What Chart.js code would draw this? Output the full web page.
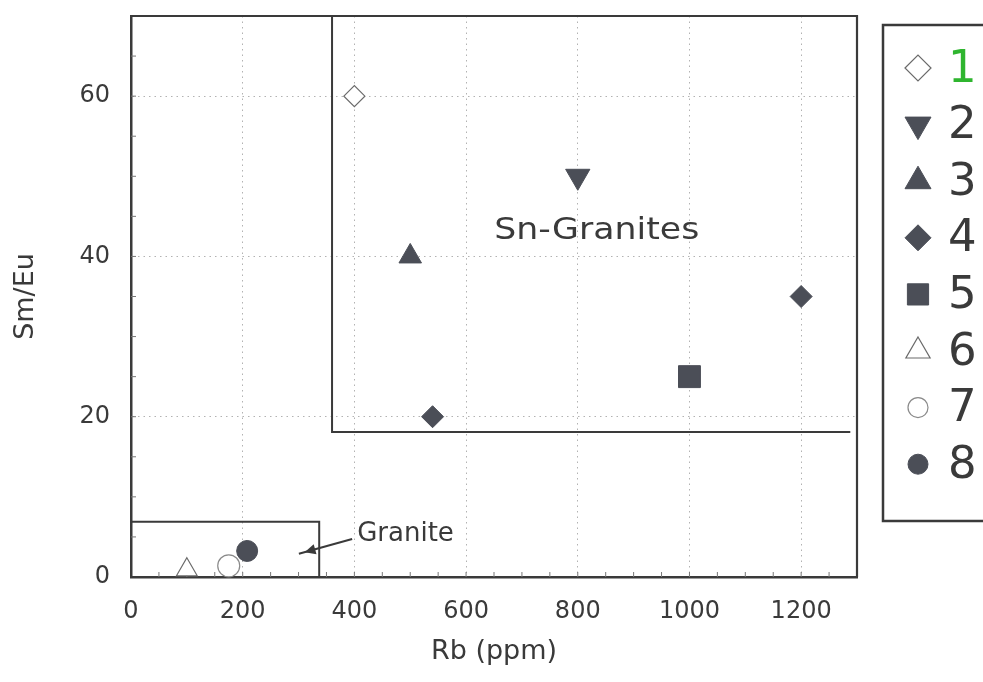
<!DOCTYPE html>
<html>
<head>
<meta charset="utf-8">
<script src="https://cdn.jsdelivr.net/npm/chart.js@4.4.1/dist/chart.umd.min.js"></script>
<style>
  html, body { margin: 0; padding: 0; background: #fff; overflow: hidden; }
  #wrap { position: relative; width: 983px; height: 682px; }
</style>
</head>
<body>
<div id="wrap"><canvas id="chart"></canvas></div>
<script>
// sample groups, Rb (ppm) vs Sm/Eu
const seriesNames = ['1', '2', '3', '4', '5', '6', '7', '8'];
const rbValues   = [[400], [800], [500], [540, 1200], [1000], [100], [175], [208]];
const smEuValues = [[60],  [50],  [40],  [20, 35],    [25],   [0.9], [1.4], [3.25]];
const xTicks = [0, 200, 400, 600, 800, 1000, 1200];
const yTicks = [0, 20, 40, 60];

// field outlines
const snField = { xMin: 360, xMax: 1288, yMin: 18.1 };
const graniteField = { xMax: 337, yMax: 6.9 };

const ink = '#3a3a3a';
const dark = '#4b4e57';
const FONT = '"DejaVu Sans", sans-serif';

const markers = [
  { style: 'rectRot',  rot: 0,   r: 10.5, fill: '#fff', line: '#6a6a6a', bw: 1.2, legendR: 13 },
  { style: 'triangle', rot: 180, r: 14,   fill: dark,   line: dark,      bw: 1,   legendR: 15 },
  { style: 'triangle', rot: 0,   r: 13,   fill: dark,   line: dark,      bw: 1,   legendR: 15 },
  { style: 'rectRot',  rot: 0,   r: 11,   fill: dark,   line: dark,      bw: 1,   legendR: 13 },
  { style: 'rect',     rot: 0,   r: 15.5, fill: dark,   line: dark,      bw: 1,   legendR: 15 },
  { style: 'triangle', rot: 0,   r: 12,   fill: '#fff', line: '#6a6a6a', bw: 1.2, legendR: 14 },
  { style: 'circle',   rot: 0,   r: 11,   fill: '#fff', line: '#8a8a8a', bw: 1.2, legendR: 10 },
  { style: 'circle',   rot: 0,   r: 10.5, fill: dark,   line: dark,      bw: 1,   legendR: 10 },
];

const datasets = seriesNames.map((name, i) => ({
  label: name,
  data: rbValues[i].map((x, j) => ({ x, y: smEuValues[i][j] })),
  pointStyle: markers[i].style,
  pointRotation: markers[i].rot,
  pointRadius: markers[i].r,
  pointHoverRadius: markers[i].r,
  pointBackgroundColor: markers[i].fill,
  pointBorderColor: markers[i].line,
  pointBorderWidth: markers[i].bw,
  order: i === 7 ? -1 : i,
  clip: false,
}));

const frameAndNotes = {
  id: 'frameAndNotes',
  beforeDatasetsDraw(chart) {
    const { ctx, chartArea: a, scales: { x, y } } = chart;
    ctx.save();
    ctx.strokeStyle = ink;
    ctx.lineWidth = 2;
    // Sn-granite field
    ctx.beginPath();
    ctx.moveTo(x.getPixelForValue(snField.xMin), a.top);
    ctx.lineTo(x.getPixelForValue(snField.xMin), y.getPixelForValue(snField.yMin));
    ctx.lineTo(x.getPixelForValue(snField.xMax), y.getPixelForValue(snField.yMin));
    ctx.stroke();
    // granite field
    ctx.beginPath();
    ctx.moveTo(a.left, y.getPixelForValue(graniteField.yMax));
    ctx.lineTo(x.getPixelForValue(graniteField.xMax), y.getPixelForValue(graniteField.yMax));
    ctx.lineTo(x.getPixelForValue(graniteField.xMax), a.bottom);
    ctx.stroke();

    // minor inward ticks
    ctx.lineWidth = 1;
    ctx.strokeStyle = '#777';
    ctx.beginPath();
    for (let v = 50; v < 1300; v += 50) {
      const px = x.getPixelForValue(v);
      ctx.moveTo(px, a.bottom); ctx.lineTo(px, a.bottom - 5);
    }
    for (let v = 5; v < 70; v += 5) {
      const py = y.getPixelForValue(v);
      ctx.moveTo(a.left, py); ctx.lineTo(a.left + 5, py);
    }
    ctx.stroke();

    // labels
    ctx.fillStyle = ink;
    ctx.textBaseline = 'middle';
    ctx.save();
    ctx.translate(x.getPixelForValue(834), y.getPixelForValue(43.2));
    ctx.scale(1.12, 1);
    ctx.font = '31px ' + FONT;
    ctx.textAlign = 'center';
    ctx.fillText('Sn-Granites', 0, 0);
    ctx.restore();

    ctx.font = '26px ' + FONT;
    ctx.textAlign = 'left';
    ctx.fillText('Granite', x.getPixelForValue(405), y.getPixelForValue(5.3));

    // arrow to the granite field
    const x1 = x.getPixelForValue(396), y1 = y.getPixelForValue(4.75);
    const x2 = x.getPixelForValue(311), y2 = y.getPixelForValue(3.1);
    const ang = Math.atan2(y2 - y1, x2 - x1);
    ctx.lineWidth = 2;
    ctx.strokeStyle = ink;
    ctx.beginPath(); ctx.moveTo(x1, y1); ctx.lineTo(x2 + 6 * Math.cos(ang), y2 + 6 * Math.sin(ang)); ctx.stroke();
    ctx.beginPath();
    ctx.moveTo(x2, y2);
    ctx.lineTo(x2 - 12 * Math.cos(ang - 0.45), y2 - 12 * Math.sin(ang - 0.45));
    ctx.lineTo(x2 - 12 * Math.cos(ang + 0.45), y2 - 12 * Math.sin(ang + 0.45));
    ctx.closePath();
    ctx.fill();
    ctx.restore();
  },
  afterDraw(chart) {
    const { ctx, chartArea: a } = chart;
    ctx.save();
    ctx.strokeStyle = ink;
    ctx.lineWidth = 2.2;
    // top and right of the plot frame
    ctx.beginPath();
    ctx.moveTo(a.left, a.top); ctx.lineTo(a.right, a.top); ctx.lineTo(a.right, a.bottom);
    ctx.stroke();

    // legend box, cut off at the right edge
    ctx.lineWidth = 2.5;
    ctx.beginPath();
    ctx.moveTo(995, 25); ctx.lineTo(883, 25); ctx.lineTo(883, 521); ctx.lineTo(995, 521);
    ctx.stroke();
    chart.data.datasets.forEach((ds, i) => {
      const cy = 68 + i * 56.6;
      ctx.fillStyle = ds.pointBackgroundColor;
      ctx.strokeStyle = ds.pointBorderColor;
      ctx.lineWidth = ds.pointBorderWidth;
      Chart.helpers.drawPoint(ctx, {
        pointStyle: ds.pointStyle, rotation: ds.pointRotation,
        radius: markers[i].legendR, borderWidth: ds.pointBorderWidth
      }, 918, cy);
      ctx.fillStyle = i === 0 ? '#2fb52f' : ink;
      ctx.font = '45px ' + FONT;
      ctx.textAlign = 'left';
      ctx.textBaseline = 'middle';
      ctx.fillText(ds.label, 948, cy + 2);
    });
    ctx.restore();
  }
};

new Chart(document.getElementById('chart'), {
  type: 'scatter',
  data: { datasets },
  plugins: [frameAndNotes],
  options: {
    responsive: true,
    maintainAspectRatio: false,
    animation: false,
    layout: { autoPadding: false, padding: { left: 0, top: 16, right: 126, bottom: 0 } },
    plugins: { legend: { display: false }, tooltip: { enabled: false } },
    scales: {
      x: {
        type: 'linear', min: 0, max: 1300,
        afterBuildTicks: (s) => { s.ticks = xTicks.map((v) => ({ value: v })); },
        afterFit: (s) => { s.height = 105; s.paddingLeft = 0; s.paddingRight = 0; },
        ticks: { color: ink, font: { family: FONT, size: 24 }, padding: 20, maxRotation: 0, callback: (v) => String(v) },
        grid: { color: 'rgba(0,0,0,.3)', lineWidth: 1, drawTicks: false },
        border: { color: ink, width: 2.5, dash: [1.5, 4] },
        title: { display: true, text: 'Rb (ppm)', color: ink, font: { family: FONT, size: 27 }, padding: { top: 0, bottom: 14 } }
      },
      y: {
        type: 'linear', min: 0, max: 70,
        afterBuildTicks: (s) => { s.ticks = yTicks.map((v) => ({ value: v })); },
        afterFit: (s) => { s.width = 131; s.paddingTop = 0; s.paddingBottom = 0; },
        ticks: { color: ink, font: { family: FONT, size: 24 }, padding: 21, callback: (v) => String(v) },
        grid: { color: 'rgba(0,0,0,.3)', lineWidth: 1, drawTicks: false },
        border: { color: ink, width: 2.5, dash: [1.5, 4] },
        title: { display: true, text: 'Sm/Eu', color: ink, font: { family: FONT, size: 27 }, padding: { top: 10, bottom: 0 } }
      }
    }
  }
});
</script>
</body>
</html>
